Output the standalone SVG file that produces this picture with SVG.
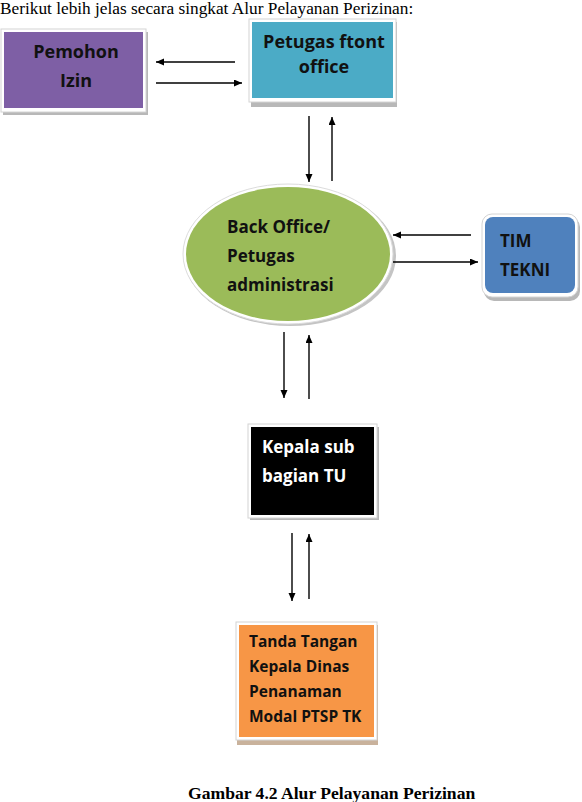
<svg xmlns="http://www.w3.org/2000/svg" width="582" height="802" viewBox="0 0 582 802">
<style>
.lbl{font-family:"Open Sans","Liberation Sans",sans-serif;font-weight:bold;fill:#111}
.frame{fill:#fff;stroke:#d4d4d4;stroke-width:1}
.shadow{fill:#b8b8b8}
.conn line{stroke:#000;stroke-width:1.4;marker-end:url(#ah)}
.serif{font-family:"Liberation Serif","Times New Roman",serif;fill:#000}
</style>
<defs>
<marker id="ah" markerUnits="userSpaceOnUse" markerWidth="9" markerHeight="8" refX="8" refY="3.5" orient="auto">
<path d="M0,0 L8,3.5 L0,7 z" fill="#000"/>
</marker>
</defs>
<rect width="582" height="802" fill="#fff"/>
<text class="serif" x="0" y="14" font-size="17.3">Berikut lebih jelas secara singkat Alur Pelayanan Perizinan:</text>

<g id="pemohon">
<rect class="shadow" x="3" y="32" width="145" height="83"/>
<rect class="frame" x="1" y="29" width="145" height="83"/>
<rect x="4" y="32" width="139" height="76" fill="#7e5fa5"/>
<text class="lbl" x="76" y="58" font-size="18" text-anchor="middle">Pemohon</text>
<text class="lbl" x="76" y="87" font-size="18" text-anchor="middle">Izin</text>
</g>

<g id="petugas-front">
<rect class="shadow" x="251" y="22" width="146" height="85"/>
<rect class="frame" x="249" y="19" width="147" height="83"/>
<rect x="252" y="22" width="141" height="76" fill="#4babc6"/>
<text class="lbl" x="324" y="48" font-size="18" text-anchor="middle">Petugas ftont</text>
<text class="lbl" x="324" y="73" font-size="18" text-anchor="middle">office</text>
</g>

<g id="back-office">
<ellipse cx="290" cy="256" rx="106" ry="70" fill="#c4c4c4"/>
<ellipse cx="288" cy="254" rx="105" ry="70" fill="#fff" stroke="#dcdcdc" stroke-width="1"/>
<ellipse cx="288" cy="254" rx="102" ry="67" fill="#9bbb59"/>
<text class="lbl" x="227" y="233" font-size="17">Back Office/</text>
<text class="lbl" x="227" y="262" font-size="17">Petugas</text>
<text class="lbl" x="227" y="291" font-size="17">administrasi</text>
</g>

<g id="tim-tekni">
<rect class="shadow" x="484" y="217" width="96" height="84" rx="10"/>
<rect class="frame" x="482" y="214" width="96" height="83" rx="10"/>
<rect x="485" y="217" width="90" height="76" rx="8" fill="#4f81bd"/>
<text class="lbl" x="500" y="247" font-size="17">TIM</text>
<text class="lbl" x="500" y="276" font-size="17">TEKNI</text>
</g>

<g id="kepala-sub">
<rect class="shadow" x="250" y="427" width="129" height="93"/>
<rect class="frame" x="248" y="424" width="129" height="94"/>
<rect x="251" y="427" width="123" height="88" fill="#000"/>
<text class="lbl" x="262" y="453" font-size="17" style="fill:#fff">Kepala sub</text>
<text class="lbl" x="262" y="482" font-size="17" style="fill:#fff">bagian TU</text>
</g>

<g id="tanda-tangan">
<rect x="237" y="625" width="141" height="120" fill="#c9b29c"/>
<rect class="frame" x="236" y="622" width="141" height="118"/>
<rect x="239" y="625" width="135" height="112" fill="#f79646"/>
<text class="lbl" x="249" y="647" font-size="15.5">Tanda Tangan</text>
<text class="lbl" x="249" y="672" font-size="15.5">Kepala Dinas</text>
<text class="lbl" x="249" y="697" font-size="15.5">Penanaman</text>
<text class="lbl" x="249" y="722" font-size="15.5">Modal PTSP TK</text>
</g>

<g id="connectors" class="conn">
<line x1="235" y1="62" x2="156" y2="62"/>
<line x1="156" y1="83" x2="242" y2="83"/>
<line x1="309" y1="116" x2="309" y2="182"/>
<line x1="332" y1="181" x2="332" y2="117"/>
<line x1="471" y1="235" x2="393" y2="235"/>
<line x1="393" y1="262" x2="478" y2="262"/>
<line x1="284" y1="332" x2="284" y2="398"/>
<line x1="309" y1="399" x2="309" y2="335"/>
<line x1="292" y1="533" x2="292" y2="601"/>
<line x1="309" y1="599" x2="309" y2="534"/>
</g>

<text class="serif" x="188" y="799" font-size="17.6" font-weight="bold">Gambar 4.2 Alur Pelayanan Perizinan</text>
</svg>
